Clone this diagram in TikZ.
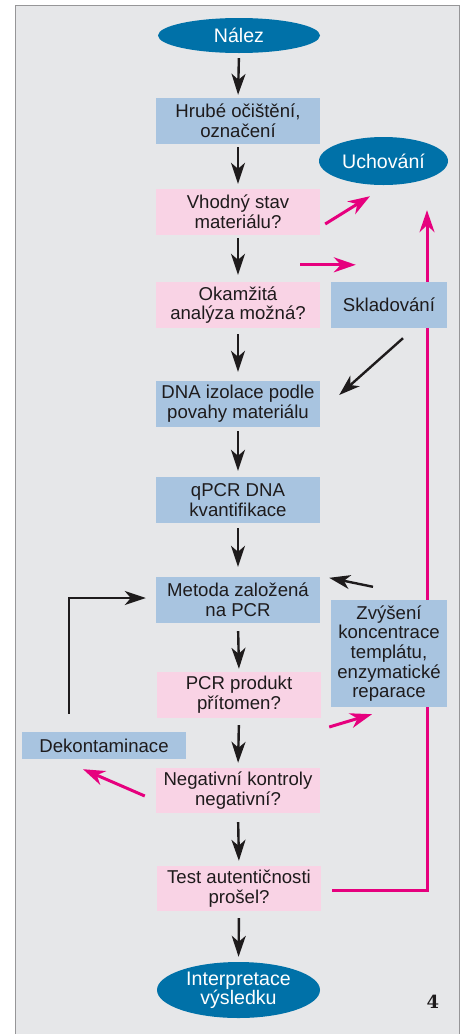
\documentclass[tikz,border=0pt]{standalone}
\usepackage{fontspec}
\setmainfont{Liberation Sans}
\newfontfamily\numfont{DejaVu Serif}
\usetikzlibrary{arrows.meta,shapes.geometric,calc}
\definecolor{bgc}{RGB}{230,231,233}
\definecolor{framec}{RGB}{150,150,152}
\definecolor{boxblue}{RGB}{168,196,224}
\definecolor{qpink}{RGB}{249,211,229}
\definecolor{ellblue}{RGB}{0,113,168}
\definecolor{mag}{RGB}{230,0,126}
\definecolor{txt}{RGB}{30,27,28}
\pgfdeclarelayer{back}
\pgfdeclarelayer{lines}
\pgfsetlayers{back,lines,main}
\begin{document}
\begin{tikzpicture}[x=1pt,y=-1pt,
  box/.style={rectangle, fill=boxblue, minimum width=164pt, minimum height=46pt,
    inner sep=0pt, align=center, text=txt, font=\fontsize{18.6}{19.7}\selectfont},
  qbox/.style={box, fill=qpink},
  term/.style={ellipse, fill=ellblue, text=white, inner sep=0pt, align=center,
    font=\fontsize{19.6}{19.3}\selectfont},
  arr/.style={draw=txt, line width=2.4pt, -{Stealth[length=21pt,width=14pt,inset=6pt]}},
  parr/.style={draw=mag, line width=3pt, -{Stealth[length=22pt,width=15pt,inset=7pt]}}
]
\begin{pgfonlayer}{back}
\useasboundingbox (0,0) rectangle (465,1034);
\fill[white] (0,0) rectangle (465,1034);
\fill[bgc] (15.5,5.5) rectangle (459.5,1034);
\draw[framec, line width=1.6pt] (15.5,1034) -- (15.5,5.5) -- (459.5,5.5) -- (459.5,1034);
\end{pgfonlayer}

% nodes
\node[term, minimum width=162pt, minimum height=35pt] (nalez) at (239,35.5) {Nález};
\node[box] (hrube) at (238,121) {Hrubé očištění,\\označení};
\node[term, minimum width=129pt, minimum height=48pt] (uchovani) at (383.5,161) {Uchování};
\node[qbox] (vhodny) at (238,212) {Vhodný stav\\materiálu?};
\node[qbox] (okamzita) at (238,305) {Okamžitá\\analýza možná?};
\node[box, minimum width=116pt] (sklad) at (389,305) {Skladování};
\node[box] (dna) at (238,404) {DNA izolace podle\\povahy materiálu};
\node[box] (qpcr) at (238,500) {qPCR DNA\\kvantifikace};
\node[box] (metoda) at (238,600) {Metoda založená\\na PCR};
\node[box, minimum width=116pt, minimum height=107pt] (zvyseni) at (389,653.5) {Zvýšení\\koncentrace\\templátu,\\enzymatické\\reparace};
\node[qbox] (pcr) at (239,695) {PCR produkt\\přítomen?};
\node[box, minimum height=27pt] (dekont) at (104,745.5) {Dekontaminace};
\node[qbox, minimum height=45pt] (negat) at (238,790.5) {Negativní kontroly\\negativní?};
\node[qbox, minimum height=45pt] (test) at (239,888.5) {Test autentičnosti\\prošel?};
\node[term, minimum width=163pt, minimum height=56pt] (interp) at (238.5,990) {Interpretace\\výsledku};
\node[anchor=base, text=txt, font=\numfont\bfseries\fontsize{18}{18}\selectfont] (fignum) at (433,1008) {4};

% main vertical arrows
\draw[arr, shorten <=5pt, shorten >=3pt] (nalez.south) -- (hrube.north);
\draw[arr, shorten <=3pt, shorten >=5pt] (hrube.south) -- (vhodny.north);
\draw[arr, shorten <=3pt, shorten >=7pt] (vhodny.south) -- (okamzita.north);
\draw[arr, shorten <=6pt, shorten >=9pt] (okamzita.south) -- (dna.north);
\draw[arr, shorten <=4pt, shorten >=6pt] (dna.south) -- (qpcr.north);
\draw[arr, shorten <=5pt, shorten >=10pt] (qpcr.south) -- (metoda.north);
\draw[arr, shorten <=8pt, shorten >=3pt] (metoda.south) -- (pcr.north);
\draw[arr, shorten <=7pt, shorten >=5pt] (pcr.south) -- (negat.north);
\draw[arr, shorten <=9pt, shorten >=5pt] (negat.south) -- (test.north);
\draw[arr, shorten <=7pt, shorten >=5pt] (test.south) -- (interp.north);

% side arrows (black)
\draw[arr] ($(sklad.south)+(14,10)$) -- ($(dna.east)+(19,-9)$);
\draw[arr] ($(zvyseni.north)+(-16,-13)$) -- ($(metoda.north east)+(9,1)$);
\draw[arr] ($(dekont.north)+(-35,-18)$) |- ($(metoda.west)+(-10,-2)$);

% pink arrows
\draw[parr] ($(vhodny.east)+(5,12)$) -- ($(uchovani.south)+(-13.5,11)$);
\draw[parr] ($(okamzita.north east)+(-20,-17)$) -- ($(sklad.north west)+(25,-17)$);
\draw[parr] ($(pcr.east)+(8,32)$) -- ($(zvyseni.south)+(-17,7)$);
\draw[parr] ($(negat.west)+(-11,5.5)$) -- ($(dekont.south)+(-21,10)$);
\begin{pgfonlayer}{lines}
\draw[parr] ($(test.east)+(11,1.5)$) -| ($(uchovani.south)+(43.5,25)$);
\end{pgfonlayer}
\end{tikzpicture}
\end{document}
